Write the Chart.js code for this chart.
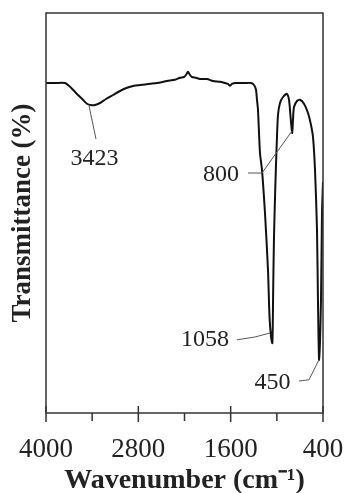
<!DOCTYPE html>
<html>
<head>
<meta charset="utf-8">
<script src="https://cdn.jsdelivr.net/npm/chart.js@4"></script>
<style>
  html, body { margin: 0; padding: 0; background: #fff; }
  #wrap { width: 346px; height: 493px; position: relative; }
</style>
</head>
<body>
<div id="wrap"><canvas id="ftir"></canvas></div>
<script>
// FTIR spectrum: wavenumber (cm-1) and transmittance (%)
const wavenumbers = [
  4000, 3883, 3753, 3701, 3649, 3584, 3519, 3467, 3423, 3363,
  3298, 3220, 3129, 3038, 2947, 2856, 2778, 2648, 2557, 2427,
  2324, 2258, 2207, 2181, 2155, 2129, 2103, 2051, 1999, 1908,
  1830, 1739, 1674, 1635, 1609, 1583, 1531, 1414, 1336, 1297,
  1271, 1258, 1245, 1219, 1193, 1154, 1115, 1095, 1075, 1058,
  1048, 1037, 1022, 1011, 1000, 985, 959, 920, 868, 842,
  829, 816, 800, 790, 777, 738, 699, 647, 595, 556,
  530, 504, 478, 465, 450, 426, 413, 400
];
const transmittance = [
  82.5, 82.5, 82.5, 81.8, 80.8, 79.5, 78.3, 77.3, 77.0, 77.0,
  77.5, 78.5, 79.5, 80.5, 81.3, 81.8, 82.0, 82.3, 82.5, 83.0,
  83.3, 83.8, 84.0, 84.5, 85.3, 84.5, 84.0, 83.8, 83.5, 83.5,
  83.0, 82.8, 82.5, 82.3, 81.8, 82.3, 82.5, 82.5, 82.5, 82.0,
  80.8, 78.3, 75.8, 65.0, 60.8, 50.0, 35.8, 24.0, 19.0, 17.5,
  30.0, 44.0, 55.0, 62.0, 68.0, 74.5, 77.5, 79.0, 79.8, 78.3,
  75.8, 72.8, 70.0, 73.3, 76.5, 78.0, 78.3, 77.3, 75.0, 72.0,
  69.0, 60.8, 45.8, 27.5, 13.3, 28.3, 50.0, 57.8
];

// x axis labels and tick marks
const majorTicks = [4000, 2800, 1600, 400];
const minorTicks = [3400, 2200, 1000];

// band labels with their leader lines, in data units
const bandLabels = ['3423', '800', '1058', '450'];
const bandLabelX = [3370, 1726, 1934, 1056];
const bandLabelY = [63.5, 59.5, 18.3, 7.5];
const leaderLines = [
  [[3441, 76.8], [3350, 68.5]],
  [[1375, 60.0], [1193, 60.0], [803, 70.5]],
  [[1518, 18.3], [1284, 19.0], [1089, 20.0]],
  [[712, 8.0], [582, 8.3], [452, 13.3]]
];

const SERIF = "'Liberation Serif', 'Times New Roman', serif";

// box round the plot plus tick marks under the x axis
const framePlugin = {
  id: 'frame',
  afterDraw(chart) {
    const { ctx, chartArea: a } = chart;
    const xs = chart.scales.x;
    ctx.save();
    ctx.strokeStyle = '#333';
    ctx.lineWidth = 1.5;
    ctx.strokeRect(a.left, a.top, a.right - a.left, a.bottom - a.top);
    majorTicks.forEach(v => {
      const px = xs.getPixelForValue(v);
      ctx.beginPath();
      ctx.moveTo(px, a.bottom - 7);
      ctx.lineTo(px, a.bottom + 9);
      ctx.stroke();
    });
    minorTicks.forEach(v => {
      const px = xs.getPixelForValue(v);
      ctx.beginPath();
      ctx.moveTo(px, a.bottom);
      ctx.lineTo(px, a.bottom + 8);
      ctx.stroke();
    });
    ctx.restore();
  }
};

// peak labels and their thin leader lines
const bandPlugin = {
  id: 'bands',
  afterDatasetsDraw(chart) {
    const { ctx } = chart;
    const xs = chart.scales.x, ys = chart.scales.y;
    ctx.save();
    ctx.strokeStyle = '#555';
    ctx.lineWidth = 1;
    leaderLines.forEach(pts => {
      ctx.beginPath();
      pts.forEach((p, i) => {
        const px = xs.getPixelForValue(p[0]);
        const py = ys.getPixelForValue(p[1]);
        if (i === 0) ctx.moveTo(px, py); else ctx.lineTo(px, py);
      });
      ctx.stroke();
    });
    ctx.fillStyle = '#222';
    ctx.font = '24px ' + SERIF;
    ctx.textAlign = 'center';
    ctx.textBaseline = 'middle';
    bandLabels.forEach((t, i) => {
      ctx.fillText(t, xs.getPixelForValue(bandLabelX[i]), ys.getPixelForValue(bandLabelY[i]));
    });
    ctx.restore();
  }
};

new Chart(document.getElementById('ftir'), {
  type: 'line',
  data: {
    datasets: [{
      data: wavenumbers.map((w, i) => ({ x: w, y: transmittance[i] })),
      borderColor: '#111',
      borderWidth: 2,
      pointRadius: 0,
      tension: 0.25,
      fill: false
    }]
  },
  options: {
    responsive: true,
    maintainAspectRatio: false,
    animation: false,
    layout: { padding: { top: 13, right: 23, left: 0, bottom: 0 } },
    plugins: {
      legend: { display: false },
      tooltip: { enabled: false }
    },
    scales: {
      x: {
        type: 'linear',
        reverse: true,
        min: 400,
        max: 4000,
        afterBuildTicks: s => { s.ticks = majorTicks.map(v => ({ value: v })); },
        ticks: {
          color: '#222',
          font: { family: SERIF, size: 27 },
          padding: 0,
          maxRotation: 0,
          callback: v => String(v)
        },
        // tick marks are drawn by the frame plugin; tickLength only spaces the labels
        grid: { display: false, drawTicks: true, tickLength: 21 },
        border: { display: false },
        title: {
          display: true,
          text: 'Wavenumber (cm\u207B\u00B9)',
          color: '#222',
          font: { family: SERIF, size: 28, weight: 'bold', lineHeight: 0.86 },
          padding: { top: 0, bottom: 0 }
        },
        afterFit: s => { s.height = 80; }
      },
      y: {
        min: 0,
        max: 100,
        ticks: { display: false },
        grid: { display: false, drawTicks: false },
        border: { display: false },
        title: {
          display: true,
          text: 'Transmittance (%)',
          color: '#222',
          font: { family: SERIF, size: 27, weight: 'bold' },
          padding: { top: 7, bottom: 0 }
        },
        afterFit: s => { s.width = 46; }
      }
    }
  },
  plugins: [framePlugin, bandPlugin]
});
</script>
</body>
</html>
